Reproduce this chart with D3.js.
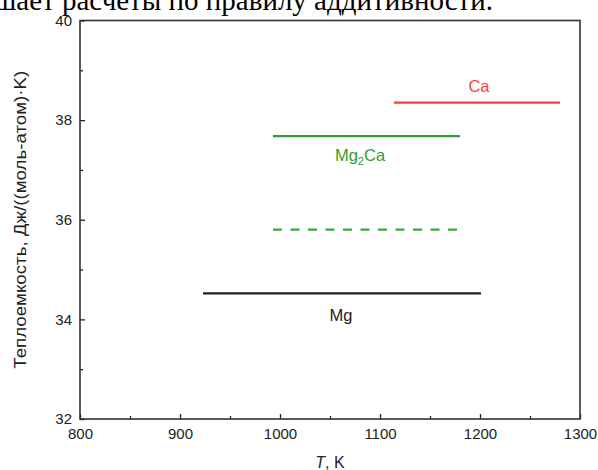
<!DOCTYPE html>
<html><head><meta charset="utf-8">
<script src="https://cdn.jsdelivr.net/npm/d3@7"></script>
<style>body{margin:0;background:#fff}svg{display:block}</style>
</head><body>
<svg id="c" width="598" height="470"></svg>
<script>
const series = ["Ca", "Mg2Ca", "Mg2Ca_add", "Mg"];
const xStart = [1114, 993, 993, 923];
const xEnd   = [1280, 1180, 1177, 1201];
const yVal   = [38.35, 37.68, 35.80, 34.52];
const colors = ["#ff3b3b", "#2e9e2e", "#3aa83a", "#222222"];
const dashed = [false, false, true, false];
const labelText = ["Ca", "Mg", "", "Mg"];
const labelX = [1199, 1080, null, 1061];
const labelY = [38.565, 37.17, null, 33.96];
const xTicks = [800, 900, 1000, 1100, 1200, 1300];
const yTicks = [32, 34, 36, 38, 40];

const svg = d3.select("#c");
const m = {l: 80, r: 18, t: 20.5, b: 51};
const W = 598, H = 470;
const x = d3.scaleLinear().domain([800, 1300]).range([m.l, W - m.r]);
const y = d3.scaleLinear().domain([32, 40]).range([H - m.b, m.t]);

// cut-off text at top
svg.append("text").attr("x", -6).attr("y", 10)
  .attr("font-family", "Liberation Serif, Times New Roman, serif").attr("font-size", 29)
  .attr("fill", "#000").text("шает расчеты по правилу аддитивности.");

const font = "Liberation Sans, Arial, sans-serif";
const fmt = d3.format("d");
// axes
const xAxis = svg.append("g").attr("transform", `translate(0,${H - m.b})`)
  .call(d3.axisBottom(x).tickValues(xTicks).tickFormat(fmt).tickSizeInner(-5).tickSizeOuter(0).tickPadding(9));
svg.append("g").attr("transform", `translate(0,${H - m.b})`)
  .call(d3.axisBottom(x).tickValues(d3.range(850, 1300, 100)).tickSizeInner(-3).tickSizeOuter(0).tickFormat(""));
const yAxis = svg.append("g").attr("transform", `translate(${m.l},0)`)
  .call(d3.axisLeft(y).tickValues(yTicks).tickFormat(fmt).tickSizeInner(-5).tickSizeOuter(0).tickPadding(8));
svg.append("g").attr("transform", `translate(${m.l},0)`)
  .call(d3.axisLeft(y).tickValues([33, 35, 37, 39]).tickSizeInner(-3).tickSizeOuter(0).tickFormat(""));
svg.selectAll(".domain").remove();
svg.selectAll(".tick line").attr("stroke", "#222").attr("stroke-width", 1.3);
svg.selectAll(".tick text").attr("font-family", font).attr("font-size", 15).attr("fill", "#222");
xAxis.selectAll(".tick text").attr("dy", "0.71em");

// frame
svg.append("rect").attr("x", x(800)).attr("y", y(40)).attr("width", x(1300) - x(800)).attr("height", y(32) - y(40))
  .attr("fill", "none").attr("stroke", "#333").attr("stroke-width", 1.6);

// lines
series.forEach((s, i) => {
  svg.append("line").attr("x1", x(xStart[i])).attr("x2", x(xEnd[i]))
    .attr("y1", y(yVal[i])).attr("y2", y(yVal[i]))
    .attr("stroke", colors[i]).attr("stroke-width", 2.2)
    .attr("stroke-dasharray", dashed[i] ? "9,8.5" : null);
});

// labels
series.forEach((s, i) => {
  if (labelX[i] == null) return;
  const t = svg.append("text").attr("x", x(labelX[i])).attr("y", y(labelY[i]))
    .attr("text-anchor", "middle").attr("font-family", font).attr("font-size", 16.5)
    .attr("fill", colors[i]);
  if (s === "Mg2Ca") {
    t.append("tspan").text("Mg");
    t.append("tspan").attr("font-size", 11).attr("dy", 4).text("2");
    t.append("tspan").attr("dy", -4).text("Ca");
  } else t.text(labelText[i]);
});

// axis titles
const xt = svg.append("text").attr("x", x(1050)).attr("y", 468).attr("text-anchor", "middle")
  .attr("font-family", font).attr("font-size", 16).attr("fill", "#222");
xt.append("tspan").attr("font-style", "italic").text("T");
xt.append("tspan").text(", K");
svg.append("text").attr("transform", `translate(26,${(y(32) + y(40)) / 2 - 0}) rotate(-90)`)
  .attr("text-anchor", "middle").attr("font-family", font).attr("font-size", 16.5).attr("fill", "#222")
  .attr("textLength", 298).attr("lengthAdjust", "spacingAndGlyphs")
  .text("Теплоемкость, Дж/((моль-атом)·K)");
</script>
</body></html>
